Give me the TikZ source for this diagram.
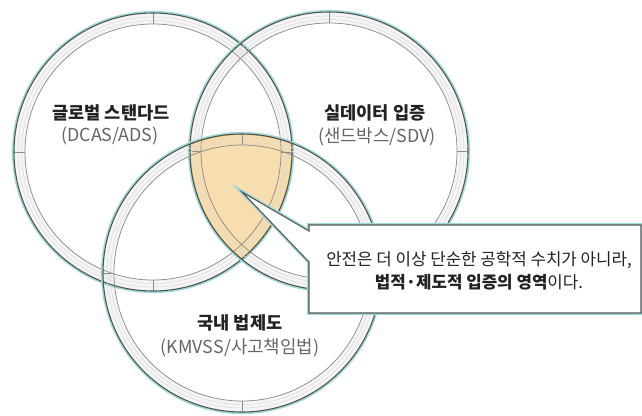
\documentclass[tikz,border=0pt]{standalone}
\usepackage{fontspec}
\usetikzlibrary{calc}
\setmainfont{Noto Sans CJK KR}
\definecolor{tealc}{HTML}{9CD8D6}
\definecolor{darkc}{HTML}{4E5050}
\definecolor{grayc}{HTML}{8C8C8C}
\definecolor{faintc}{HTML}{D8D8D8}
\definecolor{bandc}{HTML}{F3F3F3}
\definecolor{orangec}{HTML}{F8DBA6}
\definecolor{tanc}{HTML}{DDB872}
\definecolor{titlec}{HTML}{222222}
\definecolor{subc}{HTML}{666666}
\definecolor{boxc}{HTML}{555555}
\begin{document}
\begin{tikzpicture}[x=0.75pt,y=-0.75pt,
  band/.style={fill=bandc, fill opacity=0.8, even odd rule},
  glow/.style={draw=tealc, line width=1.3pt},
  outerln/.style={draw=darkc, line width=0.8pt},
  innerln/.style={draw=grayc, line width=0.55pt},
  faintln/.style={draw=faintc, line width=0.35pt},
  ringtick/.style={draw=grayc, line width=0.5pt},
  tanln/.style={draw=tanc, line width=1.3pt},
  title/.style={font=\fontsize{13.2}{15}\selectfont\bfseries, text=titlec, inner sep=0pt},
  subtitle/.style={font=\fontsize{13.4}{15}\selectfont, text=subc, inner sep=0pt},
  calltext/.style={font=\fontsize{12.6}{17.3}\selectfont, text=titlec, align=center, inner sep=0pt}]
\useasboundingbox[fill=white] (0,0) rectangle (642,415);
\def\R{139}
\def\Ri{128}
\coordinate (cL) at (153,152);
\coordinate (cR) at (329,151);
\coordinate (cB) at (242,273);
% ring bands
\foreach \c in {cL,cR,cB} {
  \fill[band] (\c) circle (\R) (\c) circle (\Ri);
}
% orange triple intersection
\begin{scope}
  \clip (cL) circle (\R);
  \clip (cR) circle (\R);
  \fill[orangec, opacity=0.9] (cB) circle (\R);
\end{scope}
\begin{scope}
  \clip (cR) circle (\R); \clip (cB) circle (\R);
  \draw[tanln] (cL) circle (\R);
\end{scope}
\begin{scope}
  \clip (cL) circle (\R); \clip (cB) circle (\R);
  \draw[tanln] (cR) circle (\R);
\end{scope}
\begin{scope}
  \clip (cL) circle (\R); \clip (cR) circle (\R);
  \draw[tanln] (cB) circle (\R);
\end{scope}
% ring lines
\foreach \c in {cL,cR,cB} {
  \draw[glow] (\c) circle (140.2);
  \draw[faintln] (\c) circle (135);
  \draw[faintln] (\c) circle (131.5);
  \draw[innerln] (\c) circle (\Ri);
  \draw[outerln] (\c) circle (\R);
  \foreach \a in {0,90,180,270} {
    \draw[ringtick] ($(\c)+(\a:\Ri)$) -- ($(\c)+(\a:\R)$);
  }
}
% callout
\coordinate (apex) at (242,192);
\coordinate (b1) at (309,225);
\coordinate (b2) at (641,225);
\coordinate (b3) at (641,313);
\coordinate (b4) at (309,313);
\coordinate (p1) at (309,262);
\coordinate (p2) at (309,231);
\draw[draw=tealc, line width=2.8pt, line join=miter] (b1) -- (b2) -- (b3) -- (b4) -- (p1) -- (apex) -- (p2) -- cycle;
\filldraw[fill=white, draw=boxc, line width=0.8pt, line join=miter] (b1) -- (b2) -- (b3) -- (b4) -- (p1) -- (apex) -- (p2) -- cycle;
% texts
\node[title] (t1) at (111,113) {글로벌 스탠다드};
\node[subtitle] (s1) at (110,136) {(DCAS/ADS)};
\node[title] (t2) at (375,113) {실데이터 입증};
\node[subtitle] (s2) at (377,137) {(샌드박스/SDV)};
\node[title] (t3) at (240,323) {국내 법제도};
\node[subtitle] (s3) at (240,348) {(KMVSS/사고책임법)};
\node[calltext] (call) at (479,271) {안전은 더 이상 단순한 공학적 수치가 아니라,\\ \textbf{법적·제도적 입증의 영역}이다.};
\end{tikzpicture}
\end{document}
